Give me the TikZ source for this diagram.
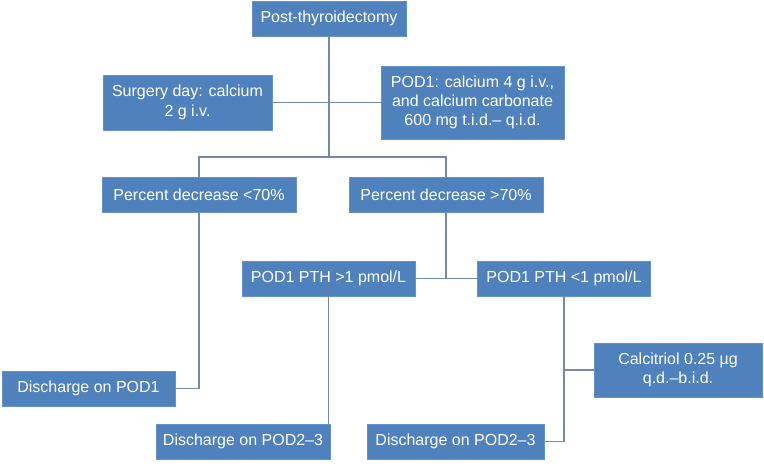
\documentclass[tikz,border=0pt]{standalone}
\usepackage{fontspec}
\setmainfont{Liberation Sans}
\usepackage{tikz}
\usetikzlibrary{positioning, calc}
\usepackage{xcolor}
\definecolor{caja}{RGB}{79,129,189}
\definecolor{borde}{RGB}{98,146,204}
\definecolor{enlace}{RGB}{112,138,168}
\tikzset{
  paso/.style={rectangle, draw=borde, fill=caja, text=white, line width=0.8pt,
               inner sep=0pt, align=center,
               font=\fontsize{16}{19.3}\selectfont},
  enlace/.style={draw=enlace, line width=1.3pt}
}

\begin{document}
\begin{tikzpicture}[x=1pt, y=-1pt]
    \useasboundingbox (0,0) rectangle (764,468);
    % nivel superior
    \node[paso, minimum width=154pt, minimum height=35pt] (post) at (329,18.5)
          {Post-thyroidectomy};
    \node[paso, minimum width=169pt, minimum height=55pt] (surg) at (187.5,102.5)
          {Surgery day: calcium\\2 g i.v.};
    \node[paso, minimum width=183pt, minimum height=73pt] (pod) at (472.5,102.5)
          {POD1: calcium 4 g i.v.,\\and calcium carbonate\\600 mg t.i.d.– q.i.d.};
    % descenso porcentual
    \node[paso, minimum width=194pt, minimum height=35pt] (bajo) at (199,194.5)
          {Percent decrease <70\%};
    \node[paso, minimum width=194pt, minimum height=35pt] (alto) at (446,194.5)
          {Percent decrease >70\%};
    % PTH
    \node[paso, minimum width=173pt, minimum height=35pt] (pthhi) at (328.5,278.5)
          {POD1 PTH >1 pmol/L};
    \node[paso, minimum width=173pt, minimum height=35pt] (pthlo) at (564,278.5)
          {POD1 PTH <1 pmol/L};
    % alta
    \node[paso, minimum width=173pt, minimum height=35pt] (alta1) at (88.5,388.5)
          {Discharge on POD1};
    \node[paso, minimum width=174pt, minimum height=35pt] (alta2a) at (243,441.5)
          {Discharge on POD2–3};
    \node[paso, minimum width=177pt, minimum height=35pt] (alta2b) at (455.5,441.5)
          {Discharge on POD2–3};
    \node[paso, minimum width=168pt, minimum height=54pt] (calc) at (678,370)
          {Calcitriol 0.25 µg\\q.d.–b.i.d.};
    \coordinate (rama) at (post.south |- 0,157);

    \draw[enlace] (post) -- (rama);
    \draw[enlace] (surg.east) -- (pod.west);
    \draw[enlace] (bajo.north) |- (rama) -| (alto.north);
    \draw[enlace] (alto.south) -- (alto.south |- pthhi.east);
    \draw[enlace] (pthhi.east) -- (pthlo.west);
    \draw[enlace] (bajo.south) |- (alta1.east);
    \draw[enlace] (pthhi.south) -- (pthhi.south |- alta2a.north);
    \draw[enlace] (pthlo.south) |- (alta2b.east);
    \draw[enlace] (pthlo.south |- calc.west) -- (calc.west);
  \end{tikzpicture}
\end{document}
